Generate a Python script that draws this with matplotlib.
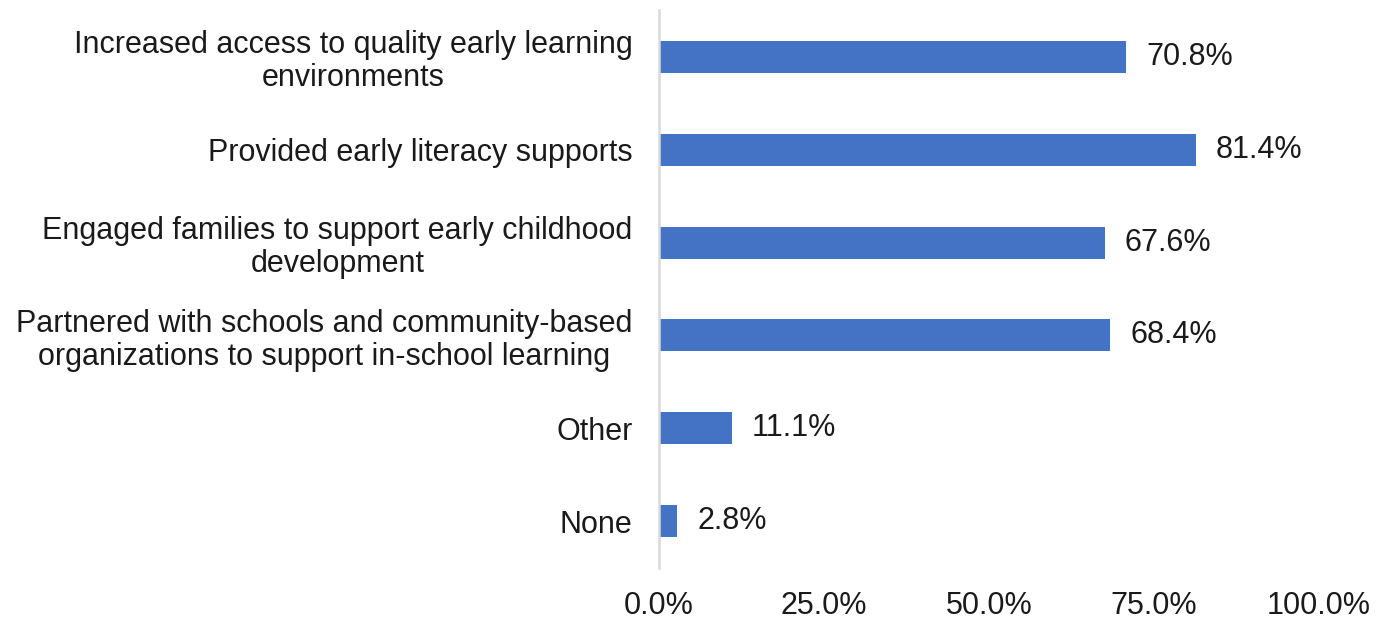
import matplotlib
matplotlib.use("Agg")
import matplotlib.pyplot as plt
from matplotlib.ticker import FuncFormatter

categories = [
    "Increased access to quality early learning\nenvironments",
    "Provided early literacy supports",
    "Engaged families to support early childhood\ndevelopment",
    "Partnered with schools and community-based\norganizations to support in-school learning",
    "Other",
    "None",
]
values = [70.8, 81.4, 67.6, 68.4, 11.1, 2.8]
xticks = [0, 25, 50, 75, 100]

plt.rcParams['font.family'] = ['Liberation Sans', 'DejaVu Sans']

fig = plt.figure(figsize=(13.76, 6.2), dpi=100)
ax = fig.add_axes([659/1376, 1 - 567.5/620, 660/1376, 557/620])

y = list(range(len(categories)))
ax.barh(y, values, height=0.345, color="#4472C4")
ax.set_ylim(len(categories) - 0.5, -0.5)
ax.set_xlim(0, 100)
ax.set_yticks(y)
ax.set_yticklabels(categories, fontsize=22, color="#1a1a1a", multialignment="center", linespacing=1.12)
ax.set_xticks(xticks)
ax.xaxis.set_major_formatter(FuncFormatter(lambda v, p: f"{v:.1f}%"))
ax.tick_params(axis="x", length=0, pad=17, labelsize=22, labelcolor="#1a1a1a")
ax.tick_params(axis="y", length=0, pad=19)

for s in ["top", "right", "bottom"]:
    ax.spines[s].set_visible(False)
ax.spines["left"].set_color("#D9D9D9")
ax.spines["left"].set_linewidth(1.8)

for yi, v in zip(y, values):
    ax.text(v + 3.0, yi, f"{v:.1f}%", va="center", ha="left", fontsize=22, color="#1a1a1a")

fig.savefig("out.png", dpi=100)
